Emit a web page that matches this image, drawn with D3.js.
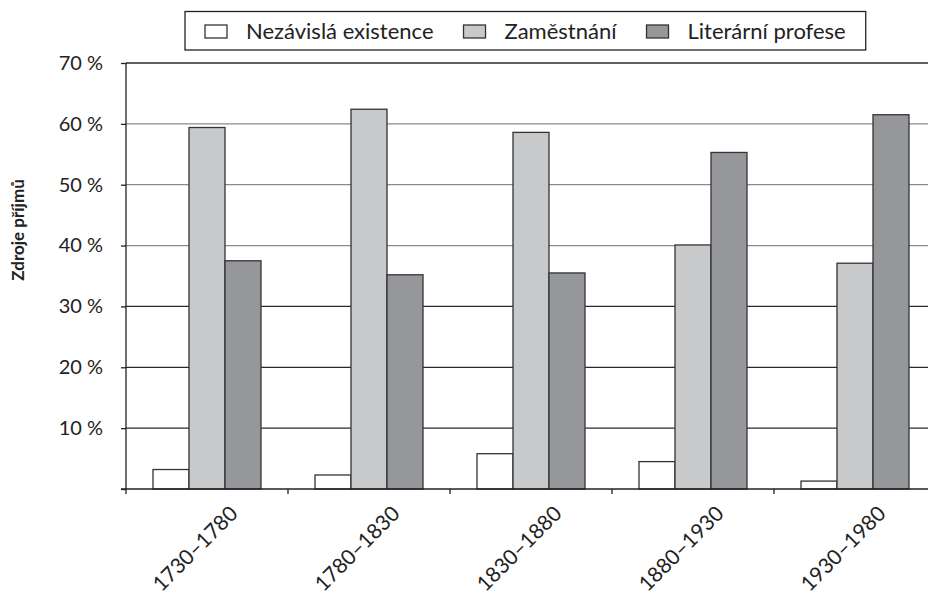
<!DOCTYPE html>
<html>
<head>
<meta charset="utf-8">
<script src="https://cdn.jsdelivr.net/npm/d3@7"></script>
<style>
  body { margin: 0; background: #fff; }
  text { font-family: Lato, "Open Sans", sans-serif; fill: #222; }
</style>
</head>
<body>
<div id="chart"></div>
<script>
const periods = ["1730–1780", "1780–1830", "1830–1880", "1880–1930", "1930–1980"];
const seriesNames = ["Nezávislá existence", "Zaměstnání", "Literární profese"];
const independent = [3.2, 2.3, 5.8, 4.5, 1.3];
const employment = [59.4, 62.4, 58.6, 40.1, 37.1];
const literary = [37.5, 35.2, 35.5, 55.3, 61.5];
const yTicks = [10, 20, 30, 40, 50, 60, 70];
const colors = ["#ffffff", "#c8c9cb", "#96979b"];

const seriesValues = [independent, employment, literary];
const data = periods.map((p, i) => ({
    period: p,
    values: seriesNames.map((s, j) => ({ key: s, value: seriesValues[j][i] }))
}));

let margin = {top: 63, right: -8, bottom: 105, left: 126},
    width = 928 - margin.left - margin.right,
    height = 594 - margin.top - margin.bottom;

let svg = d3.select("#chart")
    .append("svg")
        .attr("width", 928)
        .attr("height", 594)
    .append("g")
        .attr("transform", `translate(${margin.left},${margin.top})`);

let x0 = d3.scaleBand()
    .domain(periods)
    .range([0, width]);

let x1 = d3.scaleBand()
    .domain(seriesNames)
    .range([0, x0.bandwidth()])
    .paddingOuter(0.75);

let y = d3.scaleLinear()
    .domain([0, 70])
    .range([height, 0]);

// gridlines (the middle ones print lighter in the source)
svg.append("g")
    .selectAll("line")
    .data(yTicks)
    .enter()
    .append("line")
        .attr("x1", 0)
        .attr("x2", width)
        .attr("y1", d => y(d))
        .attr("y2", d => y(d))
        .attr("stroke", d => (d >= 40 && d <= 60) ? "#8a8a8a" : "#2a2a2a")
        .attr("stroke-width", 1.3);

// y axis
let yAxis = svg.append("g")
    .call(d3.axisLeft(y).tickValues(yTicks.concat([0])).tickSize(5).tickPadding(18)
        .tickFormat(d => d === 0 ? "" : d + " %"));
yAxis.select(".domain").attr("stroke", "#222").attr("stroke-width", 1.3)
    .attr("d", `M-5,${height}H0V0`);
yAxis.selectAll(".tick line").attr("stroke", "#222").attr("stroke-width", 1.3);
yAxis.selectAll(".tick text")
    .style("font-size", "20px")
    .attr("fill", "#222");

// bars
let groups = svg.append("g")
    .selectAll("g")
    .data(data)
    .enter()
    .append("g")
        .attr("transform", d => `translate(${x0(d.period)},0)`);

groups.selectAll("rect")
    .data(d => d.values)
    .enter()
    .append("rect")
        .attr("x", d => x1(d.key))
        .attr("y", d => y(d.value))
        .attr("width", x1.bandwidth())
        .attr("height", d => height - y(d.value))
        .attr("fill", (d, i) => colors[i])
        .attr("stroke", "#333")
        .attr("stroke-width", 1.3);

// x axis baseline and category ticks
let xAxis = svg.append("g")
    .attr("transform", `translate(0,${height})`);
xAxis.append("line")
    .attr("x1", 0).attr("x2", width)
    .attr("stroke", "#222").attr("stroke-width", 1.3);
xAxis.selectAll("line.tick")
    .data(periods)
    .enter()
    .append("line")
        .attr("class", "tick")
        .attr("x1", d => x0(d))
        .attr("x2", d => x0(d))
        .attr("y1", 0)
        .attr("y2", 5)
        .attr("stroke", "#222")
        .attr("stroke-width", 1.3);
xAxis.selectAll("text")
    .data(periods)
    .enter()
    .append("text")
        .attr("transform", d => `translate(${x0(d) + x0.bandwidth() / 2 + 32},26) rotate(-45)`)
        .attr("text-anchor", "end")
        .style("font-size", "21px")
        .text(d => d);

// y title
svg.append("text")
    .attr("transform", `translate(${24 - margin.left},${230 - margin.top}) rotate(-90)`)
    .attr("text-anchor", "middle")
    .style("font-size", "17px")
    .style("font-weight", "bold")
    .text("Zdroje příjmů");

// legend
let legend = d3.select("svg").append("g");
let legendBox = legend.append("rect")
    .attr("y", 11.5)
    .attr("height", 38.5)
    .attr("fill", "#fff")
    .attr("stroke", "#222")
    .attr("stroke-width", 1.3);
let lx = 205;
seriesNames.forEach((s, i) => {
    legend.append("rect")
        .attr("x", lx).attr("y", 25)
        .attr("width", 22).attr("height", 13)
        .attr("fill", colors[i])
        .attr("stroke", "#333")
        .attr("stroke-width", 1.3);
    let t = legend.append("text")
        .attr("x", lx + 41)
        .attr("y", 38.5)
        .style("font-size", "22px")
        .text(s);
    lx = lx + 41 + t.node().getComputedTextLength() + 30;
});
legendBox.attr("x", 185).attr("width", lx - 30 + 20 - 185);
</script>
</body>
</html>
